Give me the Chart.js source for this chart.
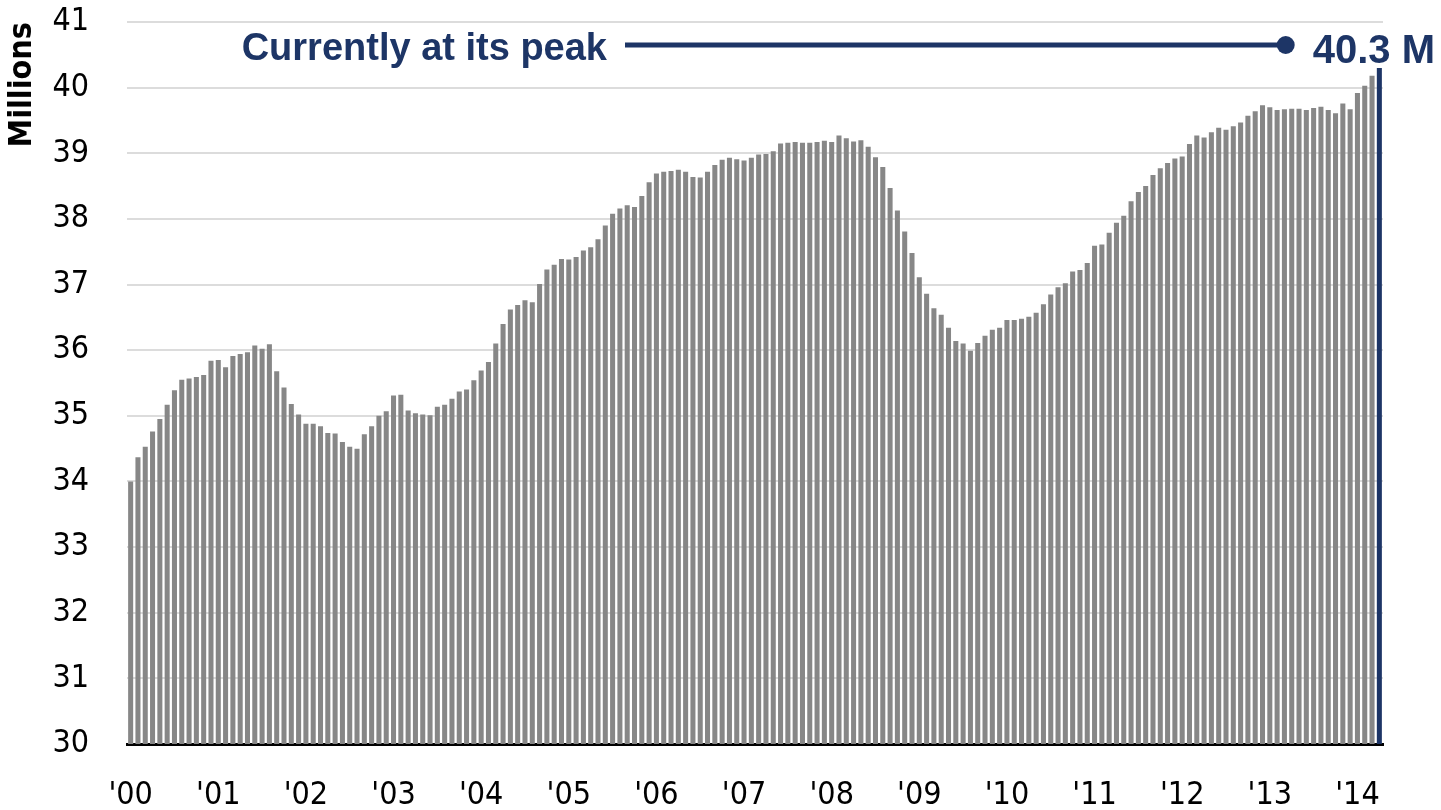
<!DOCTYPE html>
<html>
<head>
<meta charset="utf-8">
<title>Currently at its peak</title>
<script src="https://cdn.jsdelivr.net/npm/chart.js@4.4.1/dist/chart.umd.min.js"></script>
<style>
  html, body { margin: 0; padding: 0; background: #fff; }
  #wrap { position: relative; width: 1441px; height: 810px; }
</style>
</head>
<body>
<div id="wrap"><canvas id="peakChart"></canvas></div>
<script>
/* ── DATA (millions, monthly, Jan 2000 – Apr 2014) ─────────── */
const years  = [2000, 2001, 2002, 2003, 2004, 2005, 2006, 2007, 2008, 2009, 2010, 2011, 2012, 2013, 2014];
const months = ['Jan', 'Feb', 'Mar', 'Apr', 'May', 'Jun', 'Jul', 'Aug', 'Sep', 'Oct', 'Nov', 'Dec'];

const values = [
  34.00, 34.37, 34.53, 34.76, 34.95, 35.17, 35.39, 35.55, 35.57, 35.59, 35.62, 35.84, // 2000
  35.85, 35.74, 35.91, 35.94, 35.97, 36.07, 36.02, 36.09, 35.68, 35.43, 35.18, 35.02, // 2001
  34.88, 34.88, 34.84, 34.74, 34.73, 34.60, 34.53, 34.50, 34.72, 34.84, 35.00, 35.07, // 2002
  35.31, 35.32, 35.08, 35.04, 35.02, 35.01, 35.14, 35.17, 35.26, 35.37, 35.40, 35.54, // 2003
  35.69, 35.82, 36.10, 36.40, 36.62, 36.69, 36.76, 36.73, 37.01, 37.23, 37.30, 37.39, // 2004
  37.38, 37.42, 37.52, 37.57, 37.69, 37.90, 38.08, 38.16, 38.21, 38.18, 38.35, 38.56, // 2005
  38.69, 38.72, 38.73, 38.75, 38.72, 38.64, 38.63, 38.72, 38.82, 38.90, 38.93, 38.91, // 2006
  38.89, 38.93, 38.98, 38.99, 39.03, 39.15, 39.16, 39.17, 39.16, 39.16, 39.17, 39.19, // 2007
  39.17, 39.27, 39.23, 39.18, 39.20, 39.10, 38.94, 38.79, 38.47, 38.13, 37.81, 37.48, // 2008
  37.11, 36.86, 36.64, 36.54, 36.34, 36.14, 36.10, 35.99, 36.11, 36.22, 36.31, 36.34, // 2009
  36.46, 36.46, 36.48, 36.51, 36.57, 36.70, 36.85, 36.96, 37.02, 37.20, 37.22, 37.33, // 2010
  37.59, 37.61, 37.79, 37.94, 38.05, 38.27, 38.41, 38.50, 38.67, 38.77, 38.85, 38.92, // 2011
  38.95, 39.14, 39.27, 39.24, 39.32, 39.39, 39.36, 39.41, 39.47, 39.57, 39.64, 39.73, // 2012
  39.70, 39.66, 39.67, 39.68, 39.68, 39.66, 39.69, 39.71, 39.66, 39.61, 39.76, 39.67, // 2013
  39.92, 40.03, 40.18, 40.30                                                          // 2014
];

const yearTicks = ["'00", "'01", "'02", "'03", "'04", "'05", "'06", "'07",
                   "'08", "'09", "'10", "'11", "'12", "'13", "'14"];

const categories = [];
years.forEach(y => months.forEach(m => {
  if (categories.length < values.length) categories.push(m + ' ' + y);
}));

const noteText  = 'Currently at its peak';
const noteLevel = 40.65;          // height of the call-out line, in millions

/* ── COLOURS / FONTS ───────────────────────────────────────── */
const GREY   = '#878787';
const NAVY   = '#1d3566';
const NARROW = '"DejaVu Sans Condensed", "Liberation Sans Narrow", sans-serif';
const BOLD   = '"Liberation Sans", Arial, sans-serif';

/* ── CALL-OUT: text, line, dot and last value ─────────────── */
const peakNote = {
  id: 'peakNote',
  afterDatasetsDraw(chart) {
    const { ctx, chartArea, scales: { y } } = chart;
    const lineY = Math.round(y.getPixelForValue(noteLevel));
    const last  = values[values.length - 1].toFixed(1) + ' M';

    ctx.save();
    ctx.fillStyle = NAVY;
    ctx.strokeStyle = NAVY;

    // value label at the right edge
    ctx.font = 'bold 40px ' + BOLD;
    ctx.textAlign = 'right';
    ctx.textBaseline = 'alphabetic';
    const labelRight = chart.width - 6;
    const labelLeft  = labelRight - ctx.measureText(last).width;
    ctx.fillText(last, labelRight, lineY + 18);

    // dot + line
    const dotX = labelLeft - 27;
    const textRight = chartArea.left + 480;
    ctx.lineWidth = 5;
    ctx.beginPath();
    ctx.moveTo(textRight + 18, lineY);
    ctx.lineTo(dotX, lineY);
    ctx.stroke();
    ctx.beginPath();
    ctx.arc(dotX, lineY, 9, 0, Math.PI * 2);
    ctx.fill();

    // text
    ctx.font = 'bold 38px ' + BOLD;
    ctx.fillText(noteText, textRight, lineY + 15);
    ctx.restore();
  }
};

/* ── CHART ─────────────────────────────────────────────────── */
new Chart(document.getElementById('peakChart'), {
  type: 'bar',
  data: {
    labels: categories,
    datasets: [{
      data: values,
      backgroundColor: c => c.dataIndex === values.length - 1 ? NAVY : GREY,
      borderWidth: 0,
      categoryPercentage: 1,
      barPercentage: 0.69
    }]
  },
  options: {
    responsive: true, maintainAspectRatio: false, animation: false,
    layout: { padding: { top: 22, right: 58, bottom: 0, left: 0 } },
    plugins: { legend: { display: false }, tooltip: { enabled: false } },
    scales: {
      x: {
        grid: { display: false },
        border: { display: true, color: '#000', width: 3 },
        ticks: {
          autoSkip: false, maxRotation: 0, minRotation: 0, padding: 24,
          color: '#000', font: { family: NARROW, size: 32 },
          callback: (v, i) => i % 12 === 0 ? yearTicks[i / 12] : null
        },
        afterFit: s => { s.height = 66; s.paddingLeft = 0; s.paddingRight = 0; }
      },
      y: {
        min: 30, max: 41,
        grid: { color: '#dcdcdc', lineWidth: 2, drawTicks: false },
        border: { display: false },
        ticks: {
          stepSize: 1, padding: 38,
          color: '#000', font: { family: NARROW, size: 32 }
        },
        title: {
          display: true, text: 'Millions', align: 'end',
          color: '#000', font: { family: NARROW, size: 32, weight: 'bold' },
          padding: { top: 3, bottom: 0 }
        },
        afterFit: s => { s.width = 127; s.paddingTop = 0; s.paddingBottom = 0; }
      }
    }
  },
  plugins: [peakNote]
});
</script>
</body>
</html>
